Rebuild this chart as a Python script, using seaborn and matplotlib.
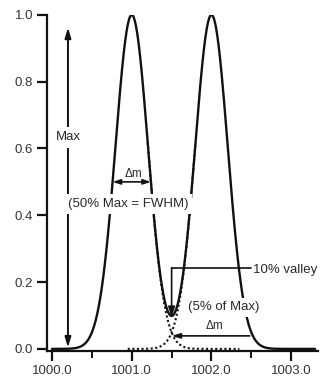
import numpy as np
import pandas as pd
import matplotlib
matplotlib.use("Agg")
import matplotlib.pyplot as plt
import seaborn as sns

# ---- data ----
peak_centers = [1001.0, 1002.0]      # m/z of the two peaks
peak_heights = [1.0, 1.0]            # relative intensity
peak_fwhm = 0.48                     # full width at half maximum
x_ticks = [1000.0, 1001.0, 1002.0, 1003.0]
x_tick_labels = ["1000.0", "1001.0", "1002.0", "1003.0"]
x_minor_ticks = [1000.5, 1001.5, 1002.5]
y_ticks = [0.0, 0.2, 0.4, 0.6, 0.8, 1.0]
y_tick_labels = ["0.0", "0.2", "0.4", "0.6", "0.8", "1.0"]
valley_mz = 1001.5
valley_level = 0.095
max_arrow_mz = 1000.2

sns.set_style("ticks")
plt.rcParams["font.family"] = ["Liberation Sans", "DejaVu Sans"]

sigma = peak_fwhm / (2 * np.sqrt(2 * np.log(2)))
mz = np.linspace(1000.0, 1003.3, 1500)


def peak(c, h, x):
    return h * np.exp(-(x - c) ** 2 / (2 * sigma ** 2))


total = sum(peak(c, h, mz) for c, h in zip(peak_centers, peak_heights))
df_sum = pd.DataFrame({"mz": mz, "intensity": total})

# individual peaks shown dotted around the valley
d1 = np.linspace(1001.2, 1002.35, 400)
d2 = np.linspace(1000.95, 1001.8, 400)
df_p1 = pd.DataFrame({"mz": d1, "intensity": peak(peak_centers[0], peak_heights[0], d1)})
df_p2 = pd.DataFrame({"mz": d2, "intensity": peak(peak_centers[1], peak_heights[1], d2)})

fig = plt.figure(figsize=(3.24, 3.81), dpi=100)
ax = fig.add_axes([0.145, 0.079, 0.835, 0.882])

ink = "#111111"
txt = "#2a2a2a"
sns.lineplot(data=df_p1, x="mz", y="intensity", ax=ax, color=ink, lw=1.5,
             linestyle=(0, (1, 1.2)), zorder=2)
sns.lineplot(data=df_p2, x="mz", y="intensity", ax=ax, color=ink, lw=1.5,
             linestyle=(0, (1, 1.2)), zorder=2)
sns.lineplot(data=df_sum, x="mz", y="intensity", ax=ax, color=ink, lw=1.7, zorder=3)

ax.set_xlim(999.937, 1003.33)
ax.set_ylim(-0.006, 1.0)
ax.set_xticks(x_ticks)
ax.set_xticklabels(x_tick_labels)
ax.set_xticks(x_minor_ticks, minor=True)
ax.set_yticks(y_ticks)
ax.set_yticklabels(y_tick_labels)
ax.set_xlabel("")
ax.set_ylabel("")
for s in ["top", "right"]:
    ax.spines[s].set_visible(False)
for s in ["left", "bottom"]:
    ax.spines[s].set_linewidth(1.6)
    ax.spines[s].set_color(ink)
ax.spines["left"].set_bounds(-0.006, 1.0)
ax.tick_params(axis="both", which="major", length=7, width=1.6, color=ink,
               labelsize=9.5, labelcolor="#333333", pad=3)
ax.tick_params(axis="x", which="minor", length=5, width=1.4, color=ink)

fs = 9.5

# "Max" double arrow
ax.annotate("", xy=(max_arrow_mz, 0.962), xytext=(max_arrow_mz, 0.004),
            arrowprops=dict(arrowstyle="<|-|>,head_length=0.6,head_width=0.18",
                            color=ink, lw=1.4, shrinkA=0, shrinkB=0), zorder=4)
ax.text(max_arrow_mz, 0.633, "Max", ha="center", va="center", fontsize=fs,
        color=txt, zorder=6,
        bbox=dict(boxstyle="square,pad=0.35", fc="white", ec="none"))

# FWHM arrow
c1 = peak_centers[0]
ax.annotate("", xy=(c1 - peak_fwhm / 2, 0.5), xytext=(c1 + peak_fwhm / 2, 0.5),
            arrowprops=dict(arrowstyle="<|-|>,head_length=0.45,head_width=0.15",
                            color=ink, lw=1.2, shrinkA=0, shrinkB=0), zorder=4)
ax.text(c1 + 0.02, 0.525, "Δm", ha="center", va="center", fontsize=fs - 1,
        color=txt, zorder=6)
ax.text(1000.955, 0.433, "(50% Max = FWHM)", ha="center", va="center",
        fontsize=fs, color=txt, zorder=6,
        bbox=dict(boxstyle="square,pad=0.3", fc="white", ec="none"))

# 10% valley
ax.plot([1002.5, valley_mz], [0.243, 0.243], color=ink, lw=1.2, zorder=4)
ax.annotate("", xy=(valley_mz, valley_level), xytext=(valley_mz, 0.243),
            arrowprops=dict(arrowstyle="-|>,head_length=0.6,head_width=0.2",
                            color=ink, lw=1.2, shrinkA=0, shrinkB=0), zorder=4)
ax.text(1002.52, 0.236, "10% valley", ha="left", va="center", fontsize=fs,
        color=txt, zorder=6)

# 5% of max
ax.text(1002.15, 0.124, "(5% of Max)", ha="center", va="center", fontsize=fs,
        color=txt, zorder=6,
        bbox=dict(boxstyle="square,pad=0.3", fc="white", ec="none"))
ax.text(1002.04, 0.069, "Δm", ha="center", va="center", fontsize=fs - 1,
        color=txt, zorder=6)
ax.annotate("", xy=(valley_mz, 0.039), xytext=(1002.48, 0.039),
            arrowprops=dict(arrowstyle="-|>,head_length=0.5,head_width=0.15",
                            color=ink, lw=1.2, shrinkA=0, shrinkB=0), zorder=4)

fig.savefig("out.png", dpi=100, facecolor="white")
